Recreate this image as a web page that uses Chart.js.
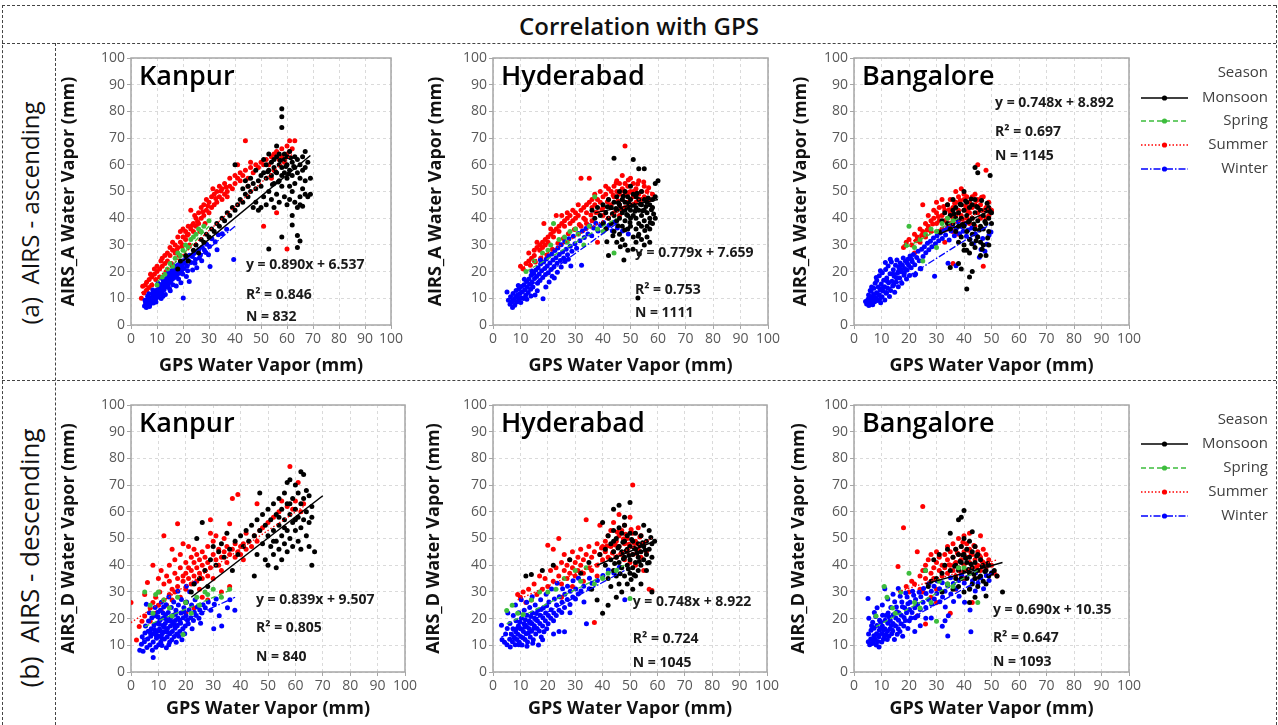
<!DOCTYPE html>
<html>
<head>
<meta charset="utf-8">
<script src="https://cdn.jsdelivr.net/npm/chart.js@4.4.1/dist/chart.umd.min.js"></script>
<style>
  body { margin: 0; background: #fff; width: 1278px; height: 725px; overflow: hidden; position: relative; font-family: "Open Sans", sans-serif; }
  .h { position: absolute; height: 0; border-top: 1px dashed #444; }
  .v { position: absolute; width: 0; border-left: 1px dashed #444; }
  canvas { position: absolute; }
  #title { position: absolute; left: 0; width: 1278px; top: 12px; line-height: 28px; text-align: center; font-size: 24px; font-weight: 600; color: #111; }
  .rowlab { position: absolute; color: #111; white-space: nowrap; transform: translate(-50%, -50%) rotate(-90deg); }
</style>
</head>
<body>
<div class="h" style="left:2px;top:5px;width:1274px"></div>
<div class="h" style="left:2px;top:43px;width:1274px"></div>
<div class="h" style="left:2px;top:380px;width:1274px"></div>
<div class="v" style="left:2px;top:5px;height:720px"></div>
<div class="v" style="left:1276px;top:5px;height:720px"></div>
<div class="v" style="left:55px;top:43px;height:682px"></div>
<div id="title">Correlation with GPS</div>
<div class="rowlab" style="left:29px;top:213px;font-size:24px">(a)&nbsp; AIRS - ascending</div>
<div class="rowlab" style="left:29px;top:558px;font-size:26px">(b)&nbsp; AIRS - descending</div>

<script>
// ---- data: [x, y] pairs flattened, GPS (x) vs AIRS (y) water vapour in mm ----
const seasons = ['Monsoon', 'Spring', 'Summer', 'Winter'];
const xTicks = [0, 10, 20, 30, 40, 50, 60, 70, 80, 90, 100];
const yTicks = [0, 10, 20, 30, 40, 50, 60, 70, 80, 90, 100];

// Kanpur ascending
const kanA_monsoon = [18,21, 19,24, 21,26, 22,24, 24,28, 25,30, 26,27, 27,32, 28,31, 29,34, 30,33, 31,36, 32,35, 33,38, 34,37, 35,40, 36,39, 37,42, 38,41, 39,44, 40,43, 40,60, 41,45, 42,47, 43,46, 44,49, 45,48, 45,52, 46,50, 47,44, 47,53, 48,51, 48,46, 49,54, 49,43, 50,52, 50,56, 50,44, 51,57, 51,48, 52,55, 52,60, 52,45, 53,58, 53,28.5, 53,50, 54,61, 54,56, 54,47, 55,59, 55,53, 55,62, 55,44, 56,57, 56,63, 56,49, 56,67, 57,60, 57,54, 57,64, 57,46, 58,81, 58,78, 58,74, 58,59, 58,52, 58,33, 58,56, 59,62, 59,57, 59,48, 59,64, 60,60, 60,55, 60,45, 60,63, 61,58, 61,52, 61,65, 61,47, 62,61, 62,56, 62,41, 62,37.5, 62,50, 63,59, 63,63, 63,46, 63,53, 64,57, 64,62, 64,44, 64,29, 64,33.5, 65,60, 65,55, 65,45, 65,31.5, 65,48, 66,58, 66,51, 66,44.5, 67,49, 67,65, 67,59, 68,48, 68,61, 69,49, 69,55, 66,63, 67,54, 53,64, 51,62, 48,58, 46,55, 44,54, 43,51, 55.6,57.4, 57.4,61.6, 59.6,59.4, 61.4,62.6, 56.6,53.6, 60.6,56.6, 62.6,59.4, 54.4,52.6, 52.6,57.4];
const kanA_spring = [10,15, 12,18, 14,21, 15,23, 17,25, 18,27, 19,26, 20,28, 21,30, 22,29, 23,32, 24,33, 25,34, 26,36, 27,35, 28,37, 30,39, 16,22, 13,19];
const kanA_summer = [4,10, 4.5,14.5, 5,12, 5.5,15, 6,16, 6,13, 7,17, 7,14, 7.5,19, 8,18, 8,15, 9,19, 9,21, 9.5,17, 10,20, 10,22, 11,21, 11,18, 11.5,24, 12,22, 12,25, 13,23, 13,26, 13.5,20, 14,24, 14,27, 15,26, 15,29, 15.5,23, 16,28, 16,31, 17,27, 17,30, 18,29, 18,33, 18.5,26, 19,31, 19,35, 20,30, 20,33, 20,36, 21,32, 21,35, 22,34, 22,37, 22.5,30, 23,36, 23,43, 24,35, 24,38, 24.5,41, 25,37, 25,40, 26,38, 26,42, 26.5,35, 27,40, 27,44, 28,41, 28,45, 28.5,38, 29,43, 29,47, 30,42, 30,46, 31,44, 31,48, 31.5,51, 32,45, 32,49, 33,46, 33,50, 34,48, 34,52, 35,47, 35,51, 36,49, 36,53, 37,50, 38,52, 38,55, 39,51, 40,53, 40,56, 41,55, 42,54, 42,57, 43,56, 44,58, 44,69, 45,55, 46,59, 46,61, 47,57, 48,60, 49,59, 50,61, 51,37, 51,60, 52,62, 53,60, 54,63, 54,55, 55,64, 55,58, 56,42, 56,65, 57,62, 58,66, 58,63, 59,61, 60,28.5, 60,67, 60,64, 61,69, 61,65, 62,66, 63,69, 41,60, 37,48, 45,52, 21.6,33.6, 23.6,37.4, 25.6,38.8, 27.6,42.4, 29.6,44.6, 32.6,47.4, 34.6,50.2, 36.6,51.6, 19.6,29.4, 17.6,28.2];
const kanA_winter = [5.2,7.1, 5.6,8.3, 5.9,6.6, 6.3,7.9, 6.1,9.4, 6.8,8.6, 7.2,7.4, 7.4,10.1, 7.7,8.9, 8.1,9.8, 8.3,11.6, 8.6,8.2, 8.9,10.7, 9.2,12.4, 9.4,9.6, 9.8,11.3, 10.1,13.2, 10.3,10.4, 10.6,12.1, 10.9,14.3, 11.2,11.5, 11.4,13.6, 11.7,15.2, 11.9,12.4, 12.2,14.1, 12.5,16.4, 12.7,13.2, 13.1,15.3, 13.3,17.1, 13.6,14.2, 13.8,16.2, 14.1,18.3, 14.3,15.1, 14.6,17.2, 14.9,19.4, 15.2,16.1, 15.4,18.2, 15.7,20.3, 15.9,17.1, 16.2,19.2, 16.5,21.1, 16.8,17.8, 17.1,19.9, 17.4,21.8, 17.6,18.6, 17.9,20.7, 18.2,22.6, 18.5,19.4, 18.8,21.3, 19.1,23.2, 19.4,20.1, 19.7,22.4, 20.1,24.1, 20.4,21.2, 20.8,23.1, 21.2,25.3, 21.6,22.1, 22.1,24.2, 22.5,26.1, 23.1,23.4, 23.6,25.7, 24.2,26.8, 24.8,24.5, 25.4,27.4, 26.1,28.3, 26.7,26.2, 27.4,29.1, 28.2,28.1, 29.1,30.2, 30.2,29.4, 31.1,32.3, 32.4,31.2, 33.6,33.8, 35.1,34.2, 36.8,35.9, 39.5,24.5, 20.1,10.1, 22.4,16.3, 19.2,15.8, 17.4,14.6, 15.1,12.8, 13.2,11.4, 21.3,18.2, 23.7,20.6, 25.3,21.4, 27.2,24.1, 29.8,26.3, 30.4,21.9, 33.1,28.2, 24.6,23.1, 18.3,17.2, 16.1,15.1, 12.3,10.8, 9.6,8.6, 7.1,6.9, 6.4,10.8, 8.4,13.1, 10.4,15.6, 12.1,17.3, 14.4,19.6, 16.3,22.4, 11.6,9.9, 6.9,11.7, 5.4,9.3, 19.9,19.1, 21.8,20.3, 14.8,13.7, 26.3,25.1, 28.8,27.2];
const kanA_fits = [[20,24, 69,63.5], [10,16, 30,37], [4,12, 62,64], [5,8, 40,37]];

// Hyderabad ascending
const hydA_monsoon = [36,43, 37,40, 38,44, 39,41, 40,45, 40,38, 41,42, 41,36, 42,26, 42,47, 42,40, 43,44, 43,38, 44,62.5, 44,46, 44,41, 44,35, 45,48, 45,43, 45,31, 45,39, 46,45, 46,40, 46,34, 46,50, 47,47, 47,42, 47,37, 47,32, 48,46, 48,43, 48,39, 48,50, 48,30, 49,48, 49,44, 49,41, 49,36, 49,28, 50,47, 50,43, 50,40, 50,37, 50,52, 51,62, 51,49, 51,45, 51,41, 51,33, 52,48, 52,44, 52,40, 52,36, 52,31, 53,58.5, 53,47, 53,43, 53,38, 53,34, 54,50, 54,45, 54,41, 54,37, 54,32, 55,58.5, 55,47, 55,43, 55,39, 55,30, 56,46, 56,42, 56,37, 56,33, 57,45, 57,40, 57,36, 57,31, 58,44, 58,38, 58,47, 59,53, 59,48, 59,40, 60,54, 47.6,24.3, 52.7,10.1, 41.6,44.3, 43.4,41.7, 44.7,43.6, 45.6,45.8, 46.8,43.1, 47.4,48.2, 48.6,41.4, 49.3,45.6, 50.4,44.8, 51.6,42.6, 52.4,49.3, 53.6,45.2, 54.4,42.8, 55.6,44.4, 56.4,47.6, 57.6,43.2, 58.4,41.6, 49.8,38.4, 47.9,35.6, 52.8,33.2, 55.2,35.4, 57.2,38.4, 45.4,37.2, 43.6,33.4, 50.9,28.4, 53.2,26.6, 46.3,29.3, 41.4,31.2];
const hydA_spring = [12,20, 15,24, 18,27, 21,30, 22,38, 24,32, 26,33, 28,35, 30,36, 33,30, 35,37, 37,48, 38,36, 40,35, 44,27, 20,28, 27,31, 31,34];
const hydA_summer = [10,22, 11,21, 12,23, 13,24, 13,27, 14,25, 15,28, 15,26, 16,29, 16,31, 17,28, 17,30, 18,31, 18,29, 18.5,38, 19,32, 19,30, 20,33, 20,31, 21,34, 21,36, 22,33, 22,35, 23,36, 23,41, 24,37, 24,35, 25,38, 25,41, 26,37, 26,39, 27,40, 27,42, 28,38, 28,41, 29,39, 29,43, 30,40, 30,42, 31,41, 31,45, 32,43, 32,55, 33,44, 33,40, 34,45, 34,42, 35,46, 35,55, 36,44, 36,47, 37,45, 37,49, 38,47, 38,31, 39,46, 39,50, 40,48, 40,44, 41,49, 41,52, 42,47, 42,51, 43,50, 43,45, 44,52, 44,48, 45,54, 45,50, 46,49, 46,53, 46,45, 47,56, 47,51, 47,47, 48,67, 48,53, 48,49, 49,52, 49,46, 50,55, 50,50, 50,45, 51,48, 51,53, 52,51, 52,46, 53,49, 53,54, 54,50, 54,47, 55,52, 55,48, 56,50, 57,47, 58,49, 44,42, 42,40, 40,41, 38,42, 36,39, 34,38, 32,37, 30,36, 46,41, 48,44, 41.6,46.2, 43.7,48.6, 45.4,46.4, 47.6,50.3, 49.4,49.6, 51.3,50.1, 46.6,43.6, 44.8,53.2, 42.5,44.6, 39.6,43.2, 37.4,42.1, 35.6,41.2, 33.6,39.4, 31.4,37.6, 29.6,35.8, 27.4,34.2, 25.6,32.4, 23.6,30.6, 21.6,28.4, 19.6,26.2, 17.4,25.1, 15.4,23.6, 13.6,22.4, 52.6,52.8, 54.8,53.6, 56.6,51.4, 49.2,54.3];
const hydA_winter = [5.1,12.4, 5.6,9.3, 6.2,7.8, 6.4,10.6, 6.9,8.7, 7.1,6.6, 7.3,11.8, 7.6,9.2, 7.9,7.4, 8.2,10.4, 8.4,12.9, 8.7,8.6, 8.9,11.2, 9.3,9.7, 9.5,13.6, 9.8,11.8, 10.2,10.2, 10.4,14.4, 10.7,12.5, 11.1,9.9, 11.3,15.1, 11.6,13.2, 11.9,11.1, 12.2,16.3, 12.4,14.1, 12.8,12.2, 13.1,17.2, 13.3,15.3, 13.7,13.4, 13.9,18.6, 14.2,16.1, 14.5,14.2, 14.8,19.3, 15.1,17.4, 15.3,11.2, 15.6,20.6, 15.9,18.2, 16.2,15.6, 16.4,21.4, 16.8,19.1, 17.1,16.7, 17.3,22.8, 17.7,20.3, 18.1,17.8, 18.2,9.8, 18.4,23.6, 18.8,21.2, 19.1,18.9, 19.4,24.7, 19.7,22.1, 20.1,19.6, 20.3,25.8, 20.7,23.2, 21.1,20.8, 21.4,26.6, 21.8,24.3, 22.2,21.9, 22.5,27.9, 22.9,25.2, 23.3,23.1, 23.6,28.8, 24.1,26.4, 24.5,24.2, 24.8,30.1, 25.3,27.3, 25.7,25.1, 26.1,31.2, 26.6,28.4, 27.1,26.3, 27.6,32.3, 28.1,29.5, 28.3,22.1, 28.7,27.6, 29.2,33.2, 29.8,30.4, 30.4,28.7, 31.1,34.3, 31.6,31.6, 32.2,22.4, 32.5,35.2, 33.2,32.8, 33.8,36.1, 34.5,34.1, 35.2,37.2, 35.9,33.4, 36.6,36.3, 37.4,38.1, 38.2,35.2, 39.1,37.3, 40.2,38.4, 41.3,36.2, 42.2,37.4, 43.4,35.3, 44.3,38.6, 45.2,36.3, 47.1,35.2, 49.2,34.1, 22.3,17.6, 24.8,21.7, 20.4,16.1, 26.2,23.8, 16.1,12.8, 13.8,10.9, 9.2,14.8, 11.4,17.1, 14.1,20.2, 17.2,24.4, 10.1,8.4, 12.3,9.6, 19.2,14.2, 21.5,18.3, 23.4,19.8, 27.4,24.6];
const hydA_fits = [[37,42, 60,47], [12,20, 45,40], [10,21, 58,50], [6,9, 45,38]];

// Bangalore ascending
const bglA_monsoon = [31,35, 32,39, 33,42, 34,38, 34,45, 35,41, 35,36, 35,21.5, 36,43, 36,38, 36,47, 37,40, 37,35, 37,44, 38,42, 38,37, 38,31, 39,45, 39,40, 39,33, 39,21, 40,50, 40,43, 40,37, 40,30, 41,46, 41,41, 41,35, 41,28, 41,13.5, 42,44, 42,39, 42,32, 42,18, 42,27, 43,45, 43,40, 43,34, 43,20, 44,47, 44,42, 44,36, 44,29, 44,59, 45,44, 45,39, 45,33, 45,57, 46,43, 46,37, 46,31, 46,26, 47,41, 47,36, 47,30, 48,43, 48,38, 48,26, 49,40, 49,35, 49,30, 49,44, 50,42, 50,38, 49.5,56, 38,23, 40,28, 36.4,41.6, 38.6,45.2, 40.6,46.4, 42.6,47.2, 44.6,44.4, 46.4,46.6, 48.4,45.6, 39.4,37.6, 41.6,38.6, 43.6,37.8, 45.6,35.6, 47.6,38.8, 49.4,42.6, 42.8,30.4, 44.4,31.6, 46.6,28.4, 48.6,32.6];
const bglA_spring = [19,30, 20,37, 22,29, 24,32, 26,34, 28,36, 30,35, 32,38, 34,40, 36,39, 25,24, 30,29];
const bglA_summer = [18,29, 19,31, 20,32, 21,30, 22,34, 22,27, 23,33, 24,36, 24,31, 25,45, 25,35, 26,38, 26,33, 27,37, 27,41, 28,39, 28,35, 29,40, 29,43, 30,38, 30,46, 30,42, 31,39, 31,44, 32,41, 32,47, 32,36, 33,43, 33,39, 34,45, 34,40, 34,36, 35,42, 35,47, 35,38, 36,44, 36,40, 36,23, 37,46, 37,50, 37,41, 38,43, 38,48, 38,39, 39,51, 39,45, 39,41, 40,47, 40,43, 40,49, 40,38, 41,44, 41,40, 41,48, 42,46, 42,42, 42,38, 43,48, 43,44, 43,40, 44,49, 44,45, 44,37, 45,60, 45,47, 45,42, 46,45, 46,40, 47,48, 47,43, 47,22, 48,58, 48,44, 48,40, 49,46, 49,41, 50,43, 36,35, 33,31, 38,34, 30.6,40.6, 32.6,44.4, 34.6,43.2, 36.6,45.6, 38.6,46.6, 40.6,44.6, 42.6,44.8, 44.6,46.6, 35.6,37.4, 39.4,39.6, 41.4,42.6, 28.6,37.8, 26.6,35.6, 24.6,33.6, 22.6,31.6, 46.4,47.8];
const bglA_winter = [4.2,8.8, 4.6,7.9, 5.1,9.6, 5.3,11.2, 5.4,7.3, 5.8,8.4, 6.1,10.1, 6.2,12.6, 6.6,9.1, 6.8,7.6, 7.1,11.4, 7.2,13.8, 7.5,8.7, 7.7,15.6, 7.9,10.3, 8.2,12.1, 8.3,16.7, 8.6,9.2, 8.8,14.2, 9.1,11.3, 9.2,18.4, 9.5,13.1, 9.7,8.3, 9.9,15.4, 10.2,10.6, 10.3,19.6, 10.6,12.7, 10.8,16.8, 11.1,14.3, 11.2,9.4, 11.5,20.8, 11.7,11.9, 11.9,17.6, 12.2,13.9, 12.4,22.1, 12.6,15.8, 12.9,10.7, 13.1,19.2, 13.3,12.9, 13.6,23.6, 13.8,16.4, 14.1,14.6, 14.3,20.7, 14.6,18.3, 14.8,12.3, 15.1,22.4, 15.3,16.1, 15.6,24.3, 15.8,19.4, 16.1,14.3, 16.3,21.6, 16.6,17.6, 16.8,23.2, 17.1,19.9, 17.4,15.6, 17.6,22.4, 17.9,25.1, 18.2,18.6, 18.4,21.2, 18.7,23.9, 19.1,17.2, 19.3,20.6, 19.6,24.6, 19.9,22.3, 20.2,18.5, 20.4,25.8, 20.8,21.4, 21.2,23.7, 21.6,26.4, 22.1,22.6, 22.4,19.1, 22.8,25.3, 23.3,27.6, 23.7,24.1, 24.1,21.2, 24.6,28.4, 25.1,25.7, 25.6,29.3, 26.1,27.1, 26.7,30.6, 27.2,28.2, 27.8,31.4, 28.3,29.3, 28.9,32.6, 29.3,18.3, 29.6,30.4, 30.2,33.4, 30.8,31.6, 31.4,34.5, 32.1,32.4, 32.7,35.6, 33.3,33.7, 34.1,36.4, 34.6,31.8, 35.3,35.2, 35.9,37.6, 36.5,33.4, 37.2,36.1, 37.8,38.7, 38.4,34.2, 39.1,36.9, 39.7,35.1, 40.3,37.8, 40.9,33.2, 41.5,35.6, 42.2,32.1, 42.8,36.3, 43.4,30.4, 44.1,34.2, 44.8,33.1, 45.6,25.4, 46.2,28.3, 46.8,32.4, 47.6,27.6, 48.3,30.2, 49.1,33.6, 49.8,34.8, 37.1,22.2, 34.2,23.1, 24.3,21.1, 22.1,18.7, 6.4,14.2, 8.1,17.8, 9.6,20.3, 5.9,12.9, 11.4,23.4, 13.2,24.6, 7.4,9.8, 10.1,13.7, 12.1,16.4, 14.2,19.1, 16.2,20.1, 18.3,19.6, 9.3,9.6, 11.8,12.2, 14.4,15.1, 6.9,10.6, 15.4,17.7, 17.2,20.8, 19.4,23.1, 20.9,24.6];
const bglA_fits = [[31,34, 50,43], [19,29, 38,40], [18,30, 50,44], [4,8, 50,38]];

// Kanpur descending
const kanB_monsoon = [20,26, 22,30, 23,33, 24,50, 25,35, 26,56, 27,38, 28,32, 29,42, 30,47, 31,40, 32,45, 33,48, 34,43, 35,52, 36,46, 37,38, 38,49, 39,44, 40,51, 41,47, 42,53, 43,49, 44,55, 45,51, 45,36, 46,57, 46,44, 47,67, 47,53, 48,59, 48,48, 49,55, 49,42, 50,61, 50,51, 50,40, 51,57, 51,47, 52,63, 52,53, 52,44, 53,59, 53,49, 53,39, 54,65, 54,55, 54,46, 55,61, 55,51, 55,42, 56,67, 56,57, 56,48, 57,71, 57,63, 57,53, 57,45, 58,72, 58,59, 58,50, 59,65, 59,56, 59,47, 60,70, 60,61, 60,53, 61,67, 61,58, 61,49, 62,75, 62,63, 62,54, 62,46, 63,74, 63,65, 63,57, 64,68, 64,60, 64,51, 65,66, 65,56, 65,47, 66,62, 66,40, 66,58, 67,45, 56,54, 58,63, 60,57, 54,58, 52,49];
const kanB_spring = [5,30, 7,25, 9,29, 10,30, 12,27, 14,24, 15,21, 17,28, 19,14, 20,26, 22,22, 24,28, 25,25, 27,30, 28,29, 30,31, 33,28, 36,31, 8,22];
const kanB_summer = [0,26, 2,12, 3,17, 4,19, 5,21, 5,29, 6,33.5, 7,24, 7,19, 8,26, 8,40, 9,28, 9,22, 10,25, 10,35, 10.5,30, 11,38, 11,23, 12,51, 12,27, 12,33, 13,36, 13,25, 14,29, 14,40, 14,34, 15,46, 15,31, 15,27, 16,37, 16,42, 16,30, 17,55.5, 17,35, 17,32, 18,39, 18,44, 18,28, 19,34, 19,36, 19,48, 20,37, 20,41, 20,31, 21,35, 21,39, 21,47, 22,33, 22,38, 22,43, 23,36, 23,41, 23,46, 24,34, 24,39, 24,44, 25,37, 25,42, 25,31, 26,40, 26,45, 26,35, 27,38, 27,43, 28,41, 28,36, 28,47, 29,57, 29,52, 29,39, 30,44, 30,49, 30,35, 31,42, 31,51, 32,40, 32,46, 33,43, 33,38, 34,45, 34,50, 35,41, 35,47, 36,44, 36,55.5, 37,65, 37,46, 38,43, 38,48, 39,66.5, 39,45, 40,47, 40,44, 41,48, 41,42, 42,46, 42,52, 43,49, 44,47, 45,51, 46,63, 46,49, 47,53, 48,54, 50,56, 52,58, 54,60, 55,64, 57,62, 58,77, 59,61, 60,64, 61,71, 62,60, 63,63, 20,22, 23,24, 26,28, 28,27, 33,30, 36,32];
const kanB_winter = [3.2,8.1, 3.8,10.4, 4.1,13.2, 4.4,7.8, 4.9,11.3, 5.1,14.6, 5.3,17.2, 5.6,25.4, 5.8,9.2, 6.1,12.4, 6.3,15.3, 6.4,19.1, 6.7,22.2, 6.9,10.1, 7.2,13.4, 7.4,16.2, 7.6,20.3, 7.8,8.1, 8.1,11.2, 8.2,14.4, 8.4,17.6, 8.6,21.1, 8.1,5.4, 8.8,24.2, 9.1,9.3, 9.3,12.6, 9.4,15.2, 9.6,18.3, 9.8,22.4, 10.1,10.2, 10.2,13.4, 10.4,16.1, 10.6,19.4, 10.7,23.1, 10.9,11.2, 11.1,26.1, 11.3,9.9, 11.4,14.3, 11.6,17.4, 11.8,20.2, 11.9,24.3, 12.2,12.4, 12.3,15.1, 12.5,18.2, 12.6,21.4, 12.8,25.2, 12.9,9.1, 13.2,13.1, 13.3,16.3, 13.5,19.2, 13.6,22.3, 13.8,28.1, 14.1,11.2, 14.2,14.3, 14.4,17.2, 14.5,20.4, 14.7,24.2, 14.9,12.1, 15.1,15.2, 15.3,18.4, 15.4,21.3, 15.6,26.2, 15.8,13.3, 16.1,16.4, 16.2,19.3, 16.4,23.1, 16.5,11.1, 16.7,14.2, 16.9,17.3, 17.1,20.2, 17.3,25.1, 17.5,13.4, 17.8,15.2, 18.1,18.3, 18.2,22.1, 18.4,27.2, 18.6,12.1, 18.9,16.2, 19.1,20.3, 19.3,24.1, 19.6,14.3, 19.8,17.2, 20.1,21.1, 20.3,26.2, 20.6,19.4, 20.9,18.1, 21.2,23.2, 21.4,30.1, 21.8,20.3, 22.1,25.1, 22.3,16.2, 22.8,19.3, 23.1,22.4, 23.4,27.1, 23.8,21.2, 24.2,24.3, 24.8,20.1, 25.1,23.2, 25.4,18.3, 25.9,22.1, 26.3,25.2, 27.1,24.1, 28.2,26.2, 29.1,23.1, 30.2,16.2, 30.4,25.4, 31.1,27.3, 32.2,21.1, 33.1,17.2, 35.2,24.1, 36.1,27.1, 37.9,23.1, 23.1,33.2, 20.2,32.1, 17.1,30.2, 9.2,13.8, 10.8,15.4, 12.1,16.8, 13.4,14.9, 11.2,12.7, 14.8,18.9, 15.9,17.6, 12.9,19.8, 10.3,17.9, 8.6,15.9, 7.1,14.6, 13.8,10.2, 16.2,21.6, 17.8,19.4, 19.4,22.6, 11.7,22.1, 9.9,20.6];
const kanB_fits = [[22,28, 70,66], [5,17, 37,31], [0,18.5, 63,62], [4,12, 38,28]];

// Hyderabad descending
const hydB_monsoon = [12,36, 14,36.5, 18,38, 22,40, 28,42, 32,37, 35,41, 36,31, 38,27, 39,44, 40,56, 40,22, 41,46, 41,40, 42,51, 42,35, 42,25, 43,48, 43,42, 43,32, 44,53, 44,45, 44,38, 44,61, 45,50, 45,43, 45,36, 46,47, 46,41, 46,62.5, 46,33, 47,52, 47,45, 47,39, 48,49, 48,43, 48,36, 48,55, 49,51, 49,46, 49,40, 49,33, 50,47, 50,42, 50,37, 50,63.5, 51,49, 51,44, 51,39, 51,31, 52,52, 52,46, 52,41, 52,36, 53,48, 53,43, 53,38, 54,51, 54,45, 54,40, 54,33, 55,47, 55,42, 55,55, 56,49, 56,44, 56,38, 57,53, 57,46, 57,41, 58,48, 58,43, 58,30, 59,49, 44,49, 46,54, 48,58, 50,52, 47,30, 45,28, 45.6,46.4, 47.4,48.6, 48.6,45.4, 49.6,43.6, 50.6,49.6, 51.6,46.4, 52.6,44.6, 53.6,47.4, 54.6,48.4, 55.6,45.6, 47.6,42.4, 49.4,38.6, 51.4,36.4, 53.4,41.4, 44.4,40.6, 46.4,36.8, 50.4,34.6, 56.4,40.8, 57.6,50.4];
const hydB_spring = [5,23, 7,25, 9,22, 11,21.5, 14,27, 17,30, 20,30, 23,31, 26,35, 30,38, 32,34, 34,39, 37,33, 40,35, 45,38, 50,27.5, 42,37];
const hydB_summer = [9,29, 10,28, 11,30, 12,26, 13,31, 14,27, 15,33, 16,29, 17,36, 18,31, 19,35, 20,32, 20,47.5, 21,38, 22,34, 22,46, 23,39, 24,36, 24,50, 25,41, 25,33, 26,38, 26,44, 27,40, 27,35, 28,42, 28,37, 29,39, 29,45, 30,41, 30,36, 31,43, 31,38, 32,40, 32,46, 33,42, 33,37, 34,44, 34,57, 35,39, 35,47, 36,43, 36,38, 37,45, 37,18.5, 38,40, 38,48, 39,55, 39,44, 40,47, 40,42, 41,49, 41,45, 42,51, 42,43, 43,47, 43,53, 44,45, 44,56, 45,49, 45,43, 46,51, 46,47, 46,59, 47,53, 47,44, 48,48, 48,55, 48,42, 49,50, 49,45, 50,58, 50,47, 50,41, 51,52, 51,44, 51,70, 52,49, 52,40, 53,54, 53,46, 54,51, 54,43, 55,48, 55,38, 56,45, 57,31, 58,30.5, 25,28, 29,32, 33,34, 38,36, 44.6,47.6, 46.6,44.2, 48.4,51.6, 49.6,47.8, 51.6,48.2, 52.4,44.4, 47.6,49.8, 45.4,52.4, 50.4,53.4, 53.6,50.6, 43.6,44.6, 41.6,47.2, 39.6,46.4];
const hydB_winter = [3.1,17.5, 3.3,12.1, 4.2,11.1, 4.6,14.2, 5.1,10.2, 5.2,16.3, 5.4,22.1, 6.1,12.3, 6.3,9.4, 6.2,18.2, 6.7,14.1, 7.1,11.3, 7.3,16.2, 7.4,21.2, 7.6,13.1, 8.1,10.2, 8.3,15.1, 8.4,19.2, 8.2,25.1, 8.7,12.2, 9.1,14.1, 9.3,17.3, 9.4,22.2, 9.6,11.1, 10.1,13.3, 10.2,16.1, 10.4,20.1, 10.3,27.1, 10.6,10.1, 11.1,15.2, 11.3,18.1, 11.4,23.1, 11.7,12.2, 12.1,14.3, 12.2,17.1, 12.4,21.3, 12.3,26.1, 12.6,11.2, 13.1,16.3, 13.2,19.1, 13.4,24.2, 13.6,13.1, 14.1,15.3, 14.2,18.2, 14.4,22.1, 14.3,28.2, 14.7,12.1, 15.1,17.3, 15.2,20.1, 15.4,25.1, 15.6,14.2, 16.1,16.3, 16.2,19.2, 16.4,23.1, 16.6,10.1, 17.1,18.2, 17.2,21.3, 17.4,27.1, 17.6,13.1, 18.1,17.2, 18.2,20.3, 18.4,24.1, 18.6,15.1, 19.1,19.2, 19.2,22.1, 19.4,29.1, 19.6,16.2, 20.1,18.1, 20.2,21.2, 20.4,26.2, 21.1,20.1, 21.2,23.3, 21.4,31.1, 22.1,19.2, 22.2,22.1, 22.4,27.3, 23.1,21.2, 23.2,25.1, 23.4,33.2, 24.1,23.1, 24.2,28.2, 25.1,22.3, 25.2,26.1, 25.4,31.2, 26.1,24.2, 26.2,29.1, 27.1,27.2, 27.2,32.1, 28.1,25.3, 28.2,30.2, 29.1,28.1, 29.2,34.2, 30.1,27.3, 30.2,31.1, 31.1,29.2, 31.2,35.1, 32.1,30.3, 33.1,32.1, 33.2,26.2, 34.1,18.1, 35.1,31.2, 35.2,35.1, 36.1,33.2, 38.1,34.3, 40.1,36.1, 42.1,38.2, 44.1,37.1, 46.1,39.2, 48.1,27.1, 28.1,22.2, 24.1,15.2, 26.1,15.1, 22.1,14.2, 18.1,12.1, 9.8,18.7, 11.8,19.6, 13.8,20.8, 15.8,21.9, 8.9,16.4, 10.9,12.8, 12.9,14.6, 14.9,16.4, 16.9,15.4, 7.9,12.6, 9.4,10.2, 11.6,16.9, 13.6,18.3, 15.6,19.7, 17.6,23.4, 19.6,24.8, 12.4,9.6, 14.5,10.8];
const hydB_fits = [[38,40, 59,49], [5,18, 48,40], [9,27, 58,50], [3,13, 48,38]];

// Bangalore descending
const bglB_monsoon = [26,38, 27,32, 28,34, 29,42, 30,35, 31,44, 32,37, 32,30, 33,40, 34,46, 34,33, 35,52, 35,38, 36,43, 36,31, 37,46, 37,40, 37,35, 38,57, 38,44, 38,38, 38,32, 39,58, 39,47, 39,41, 39,35, 40,60.5, 40,50, 40,44, 40,38, 40,30, 41,46, 41,41, 41,35, 42,49, 42,43, 42,37, 42,31, 43,52.5, 43,45, 43,39, 43,33, 44,47, 44,41, 44,35, 45,44, 45,38, 45,32, 46,42, 46,36, 47,40, 47,34, 48,38, 48,33, 49,36, 49,40, 50,37, 51,38, 52,36, 54,30, 44,28, 48,28.5, 42,26, 38.6,41.4, 40.6,42.6, 42.6,40.4, 44.6,43.4, 46.6,39.6, 41.6,38.4, 43.6,36.6, 45.6,35.4, 47.6,37.6, 39.6,43.8, 36.6,39.6, 48.6,40.6];
const bglB_spring = [8,21, 11,32, 12,28, 14,24, 15,22, 17,30, 20,37, 22,26, 24,24, 26,38, 28,26, 31,34, 34,33, 36,32, 38,39, 40,39, 45,26, 30,19];
const bglB_summer = [16,39.5, 18,54, 19,32, 20,30, 21,34, 22,33, 23,45, 24,36, 24,31, 25,62, 25,38, 26,35, 26,40, 27,33, 27,42, 28,37, 28,44, 29,39, 29,35, 30,41, 30,45, 30,31, 31,38, 31,43, 32,40, 32,36, 33,44, 33,39, 34,42, 34,47, 34,37, 35,45, 35,40, 35,22, 36,43, 36,38, 36,48, 37,46, 37,41, 37,36, 38,50, 38,44, 38,39, 39,47, 39,42, 39,37, 40,51, 40,45, 40,40, 40,35, 41,48, 41,43, 41,38, 42,46, 42,41, 42,52, 43,44, 43,39, 44,47, 44,42, 44,35, 45,45, 45,40, 46,51, 46,43, 46,38, 47,46, 47,41, 48,44, 48,39, 49,42, 50,40, 51,37, 52,36, 28,28, 30,26, 25,30, 26,18, 23,21, 37,31, 43,26, 37.6,44.6, 39.6,48.6, 41.6,45.6, 43.6,47.4, 45.6,43.6, 38.6,41.6, 40.6,42.8, 42.6,44.2, 44.6,39.4, 46.6,41.4, 36.6,40.4, 34.6,40.2];
const bglB_winter = [5.1,27.5, 5.2,11.3, 5.3,14.2, 5.4,20.1, 5.7,10.2, 6.1,12.4, 6.2,15.6, 6.4,17.3, 6.6,10.7, 7.1,11.2, 7.2,13.6, 7.3,16.4, 7.4,22.3, 7.7,12.3, 8.1,10.1, 8.2,14.3, 8.3,17.4, 8.4,24.1, 8.7,11.4, 9.1,13.2, 9.2,15.6, 9.3,19.4, 9.1,9.4, 9.6,16.3, 10.1,11.2, 10.2,14.4, 10.3,17.2, 10.4,21.3, 10.3,25.1, 10.7,12.3, 11.1,13.4, 11.2,16.2, 11.3,19.4, 11.2,31.2, 11.7,14.1, 12.1,12.2, 12.2,15.4, 12.3,18.3, 12.4,22.1, 12.3,27.3, 12.7,13.4, 13.1,16.2, 13.2,19.3, 13.4,24.2, 13.7,14.3, 14.1,15.4, 14.2,18.2, 14.3,21.4, 14.2,29.1, 14.7,12.2, 15.1,17.3, 15.2,20.2, 15.4,24.3, 15.7,14.1, 16.1,16.2, 16.2,19.4, 16.3,22.2, 16.1,31.3, 16.7,15.2, 17.1,18.1, 17.2,21.3, 17.4,26.2, 17.7,13.4, 18.1,17.2, 18.2,20.4, 18.4,24.1, 18.7,19.3, 19.1,22.2, 19.3,28.1, 19.6,16.3, 20.1,19.2, 20.2,23.4, 20.4,26.1, 20.7,20.2, 21.1,22.3, 21.3,30.2, 22.1,24.1, 22.2,20.3, 22.4,27.2, 23.1,25.3, 23.2,21.1, 24.1,23.4, 24.3,28.2, 25.1,26.1, 25.3,31.3, 26.1,24.2, 26.2,29.4, 27.1,27.2, 27.3,33.1, 28.1,30.2, 28.2,25.4, 29.1,32.1, 29.2,27.3, 30.1,29.4, 30.3,34.1, 31.1,31.2, 31.2,26.3, 32.1,33.4, 32.2,28.1, 33.1,30.2, 33.2,24.3, 34.1,32.2, 34.3,21.1, 35.1,35.3, 35.2,29.2, 36.1,33.1, 36.2,26.4, 37.1,31.2, 38.1,34.3, 38.2,28.4, 39.1,36.2, 40.1,33.3, 40.2,26.1, 41.1,35.4, 42.1,31.3, 42.2,23.2, 42.5,15.1, 43.1,34.2, 44.1,30.3, 44.2,37.1, 45.1,33.2, 46.1,35.3, 47.1,31.2, 48.1,36.1, 49.1,34.3, 50.1,37.2, 28.1,20.2, 24.1,17.3, 26.1,20.1, 22.1,15.2, 32.1,17.1, 33.1,19.2, 34.1,13.5, 9.7,18.6, 11.6,21.2, 13.6,17.4, 15.6,22.6, 17.6,24.4, 19.6,25.6, 8.8,13.9, 10.8,15.8, 12.8,20.6, 14.8,26.3, 16.8,28.4, 18.8,29.6, 6.8,18.6, 7.9,20.8, 21.7,28.7, 23.7,29.9];
const bglB_fits = [[26,33, 54,41], [8,17, 45,38], [16,30, 52,42], [5,11, 50,37]];

// regression labels
const kanA_stats = ['y = 0.890x + 6.537', 'R\u00b2 = 0.846', 'N = 832'];
const hydA_stats = ['y = 0.779x + 7.659', 'R\u00b2 = 0.753', 'N = 1111'];
const bglA_stats = ['y = 0.748x + 8.892', 'R\u00b2 = 0.697', 'N = 1145'];
const kanB_stats = ['y = 0.839x + 9.507', 'R\u00b2 = 0.805', 'N = 840'];
const hydB_stats = ['y = 0.748x + 8.922', 'R\u00b2 = 0.724', 'N = 1045'];
const bglB_stats = ['y = 0.690x + 10.35', 'R\u00b2 = 0.647', 'N = 1093'];

// ---- styles ----
const FONT = '"Open Sans", sans-serif';
const seasonColors = ['#000000', '#3dbd3d', '#ff0000', '#0000ff'];
const seasonDash = [[], [5, 3], [1.5, 2], [7, 2, 1.5, 2]];
const drawOrder = [1, 0, 3, 2]; // first = on top: spring, monsoon, winter, summer

const panels = [
  { city: 'Kanpur', yTitle: 'AIRS_A Water Vapor (mm)', series: [kanA_monsoon, kanA_spring, kanA_summer, kanA_winter], fits: kanA_fits, stats: kanA_stats, statPos: [44.2, 22.5, 11.2, 3.0],
    plotL: 131, plotT: 58, plotW: 260, plotH: 267, yW: 73, xH: 55, padR: 16 },
  { city: 'Hyderabad', yTitle: 'AIRS_A Water Vapor (mm)', series: [hydA_monsoon, hydA_spring, hydA_summer, hydA_winter], fits: hydA_fits, stats: hydA_stats, statPos: [51.6, 27, 13.1, 4.5],
    plotL: 493, plotT: 58, plotW: 275, plotH: 267, yW: 68, xH: 55, padR: 16 },
  { city: 'Bangalore', yTitle: 'AIRS_A Water Vapor (mm)', series: [bglA_monsoon, bglA_spring, bglA_summer, bglA_winter], fits: bglA_fits, stats: bglA_stats, statPos: [51.3, 83, 72.3, 63.3],
    plotL: 854, plotT: 58, plotW: 275, plotH: 267, yW: 64, xH: 55, padR: 147, legendY: [73, 98, 121, 145, 169] },
  { city: 'Kanpur', yTitle: 'AIRS_D Water Vapor (mm)', series: [kanB_monsoon, kanB_spring, kanB_summer, kanB_winter], fits: kanB_fits, stats: kanB_stats, statPos: [45.6, 27, 16.5, 5.6],
    plotL: 131, plotT: 405, plotW: 274, plotH: 267, yW: 73, xH: 51, padR: 16 },
  { city: 'Hyderabad', yTitle: 'AIRS_D Water Vapor (mm)', series: [hydB_monsoon, hydB_spring, hydB_summer, hydB_winter], fits: hydB_fits, stats: hydB_stats, statPos: [51, 26.2, 12.4, 3.4],
    plotL: 493, plotT: 405, plotW: 274, plotH: 267, yW: 70, xH: 51, padR: 16 },
  { city: 'Bangalore', yTitle: 'AIRS_D Water Vapor (mm)', series: [bglB_monsoon, bglB_spring, bglB_summer, bglB_winter], fits: bglB_fits, stats: bglB_stats, statPos: [50.5, 23.2, 12.7, 3.7],
    plotL: 854, plotT: 405, plotW: 275, plotH: 267, yW: 66, xH: 51, padR: 147, legendY: [420, 444, 468, 492, 516] }
];

function toPoints(flat) {
  const out = [];
  for (let i = 0; i < flat.length; i += 2) out.push({ x: flat[i], y: flat[i + 1] });
  return out;
}

const framePlugin = {
  id: 'frame',
  beforeDatasetsDraw(chart) {
    const a = chart.chartArea, ctx = chart.ctx;
    ctx.save();
    ctx.strokeStyle = '#a6a6a6';
    ctx.lineWidth = 1.5;
    ctx.strokeRect(a.left, a.top, a.right - a.left, a.bottom - a.top);
    ctx.restore();
  }
};

const labelPlugin = {
  id: 'labels',
  afterDatasetsDraw(chart, args, opts) {
    const p = opts.panel, ctx = chart.ctx, a = chart.chartArea;
    const xs = chart.scales.x, ys = chart.scales.y;
    ctx.save();
    ctx.textBaseline = 'middle';
    ctx.textAlign = 'left';
    ctx.fillStyle = '#000';
    ctx.font = '600 27px ' + FONT;
    ctx.fillText(p.city, a.left + 8, a.top + 19);
    ctx.fillStyle = '#1a1a1a';
    ctx.font = 'bold 14px ' + FONT;
    const sx = xs.getPixelForValue(p.statPos[0]);
    p.stats.forEach((s, i) => ctx.fillText(s, sx, ys.getPixelForValue(p.statPos[i + 1])));

    if (p.legendY) {
      const offX = p.plotL - p.yW, offY = p.plotT - 12;
      ctx.textAlign = 'right';
      ctx.fillStyle = '#404040';
      ctx.font = '15px ' + FONT;
      ctx.fillText('Season', 1268 - offX, p.legendY[0] - offY);
      seasons.forEach((s, i) => {
        const y = p.legendY[i + 1] - offY;
        ctx.strokeStyle = seasonColors[i];
        ctx.lineWidth = i === 0 ? 1.5 : 1.3;
        ctx.setLineDash(seasonDash[i]);
        ctx.beginPath();
        ctx.moveTo(1141 - offX, y);
        ctx.lineTo(1188 - offX, y);
        ctx.stroke();
        ctx.setLineDash([]);
        ctx.fillStyle = seasonColors[i];
        ctx.beginPath();
        ctx.arc(1164.5 - offX, y, 2.6, 0, Math.PI * 2);
        ctx.fill();
        ctx.fillStyle = '#404040';
        ctx.fillText(s, 1268 - offX, y);
      });
    }
    ctx.restore();
  }
};

function makePanel(p) {
  const padT = 12;
  const W = p.yW + p.plotW + p.padR;
  const H = padT + p.plotH + p.xH;
  const cv = document.createElement('canvas');
  cv.width = W; cv.height = H;
  cv.style.width = W + 'px'; cv.style.height = H + 'px';
  cv.style.left = (p.plotL - p.yW) + 'px';
  cv.style.top = (p.plotT - padT) + 'px';
  document.body.appendChild(cv);

  const datasets = [];
  drawOrder.forEach(i => {
    const f = p.fits[i];
    datasets.push({
      type: 'line', label: seasons[i] + ' fit',
      data: [{ x: f[0], y: f[1] }, { x: f[2], y: f[3] }],
      borderColor: seasonColors[i], borderWidth: i === 0 ? 1.5 : 1.3,
      borderDash: seasonDash[i], pointRadius: 0, fill: false
    });
  });
  drawOrder.forEach(i => {
    datasets.push({
      label: seasons[i], data: toPoints(p.series[i]),
      backgroundColor: seasonColors[i], borderWidth: 0, pointRadius: 2.5
    });
  });

  const axis = (title, ticks, fit) => ({
    type: 'linear', min: 0, max: 100,
    afterBuildTicks: s => { s.ticks = ticks.map(v => ({ value: v })); },
    afterFit: fit,
    ticks: { font: { family: FONT, size: 14 }, color: '#595959', padding: 2, autoSkip: false, maxRotation: 0 },
    grid: { color: '#dadada', lineWidth: 1, tickColor: '#a6a6a6', tickLength: 4, borderDash: [3, 3] },
    border: { display: false, dash: [3, 3] },
    title: { display: true, text: title, color: '#111', font: { family: FONT, size: 18, weight: 'bold' }, padding: { top: 0, bottom: 3 } }
  });

  new Chart(cv, {
    type: 'scatter',
    data: { datasets },
    options: {
      responsive: false, animation: false, devicePixelRatio: 1,
      layout: { padding: { top: padT, right: p.padR, left: 0, bottom: 0 } },
      plugins: { legend: { display: false }, tooltip: { enabled: false }, labels: { panel: p } },
      scales: {
        x: axis('GPS Water Vapor (mm)', xTicks, s => { s.height = p.xH; }),
        y: axis(p.yTitle, yTicks, s => { s.width = p.yW; })
      }
    },
    plugins: [framePlugin, labelPlugin]
  });
}

panels.forEach(makePanel);
</script>
</body>
</html>
